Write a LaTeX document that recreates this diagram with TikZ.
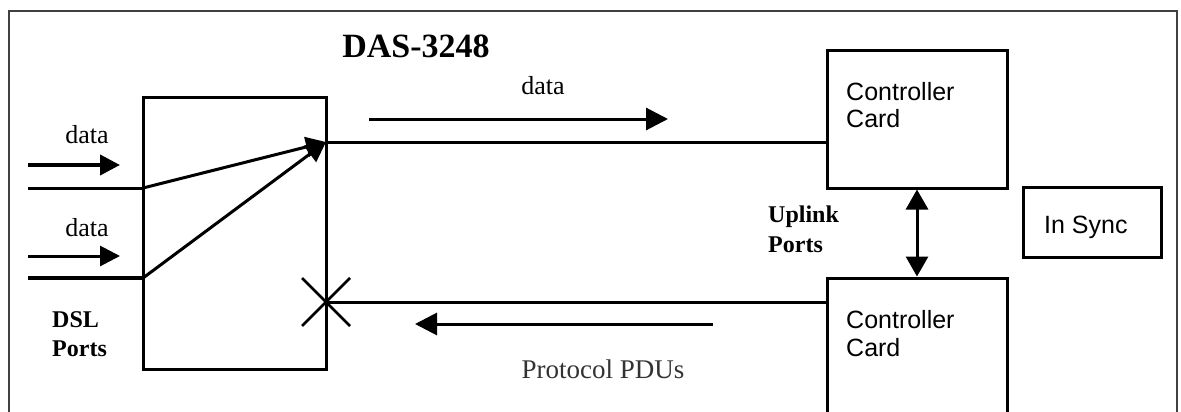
\documentclass[tikz,border=0pt]{standalone}
\usepackage{fontspec}
\setmainfont{Liberation Serif}
\setsansfont{Liberation Sans}
\usetikzlibrary{arrows.meta}
\begin{document}
\begin{tikzpicture}[x=1pt,y=-1pt,
  box/.style={draw,line width=3pt,inner sep=0pt,minimum width=#1},
  ln/.style={line width=3pt},
  tip/.style={-{Triangle[length=20pt,width=20pt]}},
  sertxt/.style={font=\fontsize{26}{30}\selectfont,inner sep=0pt},
  boldtxt/.style={font=\fontsize{24}{28}\selectfont\bfseries,inner sep=0pt},
  sanstxt/.style={font=\sffamily\fontsize{25}{30}\selectfont,inner sep=0pt}]
\clip (0,0) rectangle (1181,412);
\fill[white] (0,0) rectangle (1181,412);
% outer frame
\draw[line width=1.5pt,black!75] (9,420) -- (9,11) -- (1177,11) -- (1177,420);
% boxes
\node[box=183pt,minimum height=272pt] (das) at (234.5,233) {};
\node[box=180pt,minimum height=137pt] (cc1) at (917,119.5) {};
\node[box=180pt,minimum height=150pt] (cc2) at (917,353) {};
\node[box=138pt,minimum height=70pt] (sync) at (1092,222) {};
% coordinates
\coordinate (s1) at (28,188);
\coordinate (s2) at (28,278);
\coordinate (in1) at (143,188);
\coordinate (in2) at (143,278);
\coordinate (hub) at (326,142);
\coordinate (xx) at (326,302);
\coordinate (a1s) at (28,165);  \coordinate (a1e) at (120,165);
\coordinate (a2s) at (28,256);  \coordinate (a2e) at (120,256);
\coordinate (a3s) at (369,119); \coordinate (a3e) at (668,119);
\coordinate (a4s) at (713,324); \coordinate (a4e) at (415,324);
% connectors
\draw[ln] (s1) -- (in1);
\draw[ln,line width=4pt] (s2) -- (in2);
\draw[ln,tip] (in1) -- (hub);
\draw[ln,tip] (in2) -- (hub);
\draw[ln] (hub) -- (hub -| cc1.west);
\draw[ln] (xx) -- (xx -| cc2.west);
\draw[line width=2.5pt] (xx) +(-24,-24) -- +(24,24);
\draw[line width=2.5pt] (xx) +(-24,24) -- +(24,-24);
\draw[ln,{Triangle[length=20pt,width=22pt]}-{Triangle[length=20pt,width=22pt]}] (cc1.south) -- (cc2.north);
% short flow arrows
\draw[line width=4pt,tip] (a1s) -- (a1e);
\draw[ln,tip] (a2s) -- (a2e);
\draw[ln,-{Triangle[length=22pt,width=22pt]}] (a3s) -- (a3e);
\draw[ln,-{Triangle[length=22pt,width=22pt]}] (a4s) -- (a4e);
% texts
\node[sertxt,anchor=base] (d1) at (87,143) {data};
\node[sertxt,anchor=base] (d2) at (87,236) {data};
\node[sertxt,anchor=base] (d3) at (543,95) {data};
\node[font=\fontsize{34}{40}\selectfont\bfseries,inner sep=0pt,anchor=base] (title) at (416,58) {DAS-3248};
\node[boldtxt,anchor=base west] (dsl1) at (52,327) {DSL};
\node[boldtxt,anchor=base west] (dsl2) at (52,356) {Ports};
\node[boldtxt,anchor=base west] (up1) at (768,222) {Uplink};
\node[boldtxt,anchor=base west] (up2) at (768,252) {Ports};
\node[sertxt,font=\fontsize{27}{30}\selectfont,text=black!80,anchor=base] (pdu) at (603,378) {Protocol PDUs};
\node[sanstxt,anchor=base west] (c1a) at (846,100) {Controller};
\node[sanstxt,anchor=base west] (c1b) at (846,128) {Card};
\node[sanstxt,anchor=base west] (c2a) at (846,328) {Controller};
\node[sanstxt,anchor=base west] (c2b) at (846,356) {Card};
\node[sanstxt,anchor=base west] (st) at (1044,233) {In Sync};
\end{tikzpicture}
\end{document}
